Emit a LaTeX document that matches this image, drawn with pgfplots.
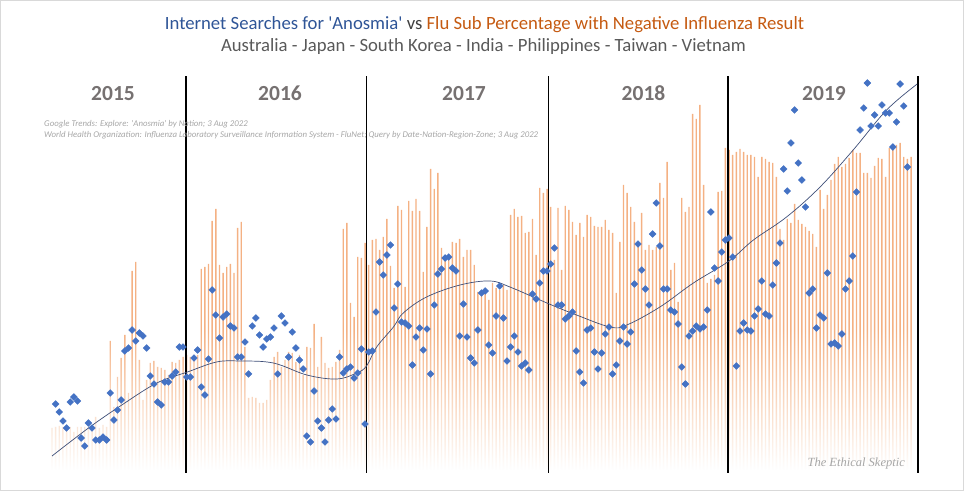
\documentclass[border=0pt]{standalone}
\usepackage{pgfplots}
\usepackage{pgfplotstable}
\usepackage{fontspec}
\setmainfont{Carlito}
\newfontfamily\sigfont{Liberation Serif}
\pgfplotsset{compat=1.18}
\usetikzlibrary{fadings}

\definecolor{titleblue}{RGB}{47,85,151}
\definecolor{titleorange}{RGB}{197,90,17}
\definecolor{vsgray}{RGB}{64,64,64}
\definecolor{subgray}{RGB}{89,89,89}
\definecolor{yeargray}{RGB}{118,113,113}
\definecolor{srcgray}{RGB}{166,166,166}
\definecolor{barorange}{RGB}{244,177,131}
\definecolor{dotblue}{RGB}{68,114,196}
\definecolor{trendblue}{RGB}{62,78,120}
\definecolor{framegray}{RGB}{217,217,217}

% weekly series: k = week index (from spring 2015), flu = negative flu share bar, search = 'Anosmia' search index
\pgfplotstableread{
k flu search
0 42 nan
1 43 66
2 44 58
3 43 49
4 43 42
5 43 68
6 38 73
7 43 69
8 43 32
9 43 24
10 43 47
11 43 42
12 53 30
13 42 30
14 45 33
15 43 30
16 129 77
17 63 50
18 93 60
19 112 70
20 135 119
21 77 122
22 199 140
23 208 129
24 110 137
25 70 134
26 90 122
27 107 94
28 109 86
29 103 68
30 102 65
31 100 88
32 95 88
33 108 94
34 107 98
35 110 123
36 113 123
37 115 93
38 113 93
39 114 112
40 115 120
41 201 83
42 203 75
43 206 111
44 249 180
45 261 155
46 205 132
47 197 153
48 203 156
49 206 144
50 197 142
51 242 113
52 248 113
53 123 128
54 72 96
55 73 144
56 72 152
57 67 135
58 67 123
59 70 131
60 90 133
61 113 142
62 118 96
63 103 154
64 110 147
65 118 113
66 117 138
67 108 122
68 115 110
69 95 101
70 123 34
71 122 28
72 146 79
73 103 49
74 133 42
75 107 28
76 102 50
77 103 61
78 108 51
79 120 113
80 241 97
81 247 101
82 167 103
83 153 92
84 213 97
85 212 121
86 227 46
87 205 118
88 230 119
89 231 158
90 220 208
91 233 195
92 251 215
93 204 225
94 182 162
95 264 186
96 260 148
97 183 147
98 269 144
99 259 105
100 271 133
101 259 142
102 198 120
103 243 141
104 301 96
105 281 165
106 297 196
107 222 201
108 215 212
109 212 213
110 228 202
111 227 199
112 231 134
113 213 166
114 220 133
115 220 112
116 205 107
117 178 140
118 178 177
119 178 179
120 170 125
121 187 117
122 182 154
123 180 184
124 185 152
125 180 109
126 255 123
127 261 134
128 253 118
129 254 104
130 237 107
131 238 100
132 251 176
133 215 171
134 282 187
135 277 199
136 281 199
137 263 206
138 210 222
139 262 165
140 200 165
141 264 151
142 260 154
143 248 158
144 235 119
145 247 98
146 233 87
147 255 140
148 253 142
149 244 118
150 243 101
151 243 117
152 250 136
153 240 143
154 237 96
155 177 105
156 228 129
157 285 143
158 277 126
159 263 138
160 248 186
161 225 226
162 257 200
163 220 181
164 225 165
165 220 236
166 223 267
167 287 224
168 272 181
169 308 181
170 200 160
171 207 158
172 168 146
173 272 103
174 258 86
175 263 134
176 356 139
177 351 144
178 365 141
179 285 143
180 187 160
181 191 258
182 195 202
183 278 189
184 279 218
185 322 230
186 320 232
187 315 213
188 318 104
189 321 139
190 318 147
191 315 140
192 315 139
193 313 154
194 293 161
195 313 189
196 311 156
197 308 154
198 307 185
199 293 207
200 241 227
201 230 301
202 251 279
203 247 327
204 266 360
205 250 307
206 246 290
207 243 263
208 239 177
209 236 181
210 223 142
211 280 155
212 261 152
213 275 197
214 290 126
215 306 127
216 313 124
217 303 136
218 306 181
219 312 189
220 320 214
221 317 278
222 317 340
223 297 362
224 297 387
225 292 344
226 304 355
227 312 344
228 311 365
229 293 357
230 322 357
231 325 323
232 325 348
233 327 386
234 313 364
235 311 303
236 313 nan
}\weekly

% polynomial trend of the search series
\pgfplotstableread{
k trend
0 14
10.4 43
19.6 66
28.8 87
37.2 98
45.2 108
51.6 109
60.8 107
70 95
78.2 91
83.7 97
86.4 104
89.2 123
93.8 143
96.5 157
102.9 173
112.1 185
120.3 189
125.8 183
136.6 166
144.1 155
153.3 143
157.9 145
167 163
176.2 187
186 209
192.7 230
201.8 253
211 283
220.1 320
229.3 360
237.7 386
}\trend

\begin{document}
\begin{tikzpicture}
\begin{axis}[
    at={(0pt,0pt)}, anchor=south west,
    scale only axis,
    width=968pt, height=494pt,
    xmin=-14.29, xmax=251.65,
    ymin=-24, ymax=470,
    hide axis,
]
\addplot[ybar, bar width=1.4pt, fill=barorange, draw=none] table[x=k, y=flu] {\weekly};
% bars fade out towards the base
\fill[white, path fading=north] (axis cs:-14,0) rectangle (axis cs:251,140);
\fill[white] (axis cs:-14,-24) rectangle (axis cs:251,0);
% year separators
\foreach \yx in {36.8,86.3,136.3,185.7,237.9} {
    \edef\temp{\noexpand\draw[black, line width=1.2pt] (axis cs:\yx,-3) -- (axis cs:\yx,394);}
    \temp
}
\addplot[trendblue, line width=0.7pt, smooth, tension=0.6] table[x=k, y=trend] {\trend};
\addplot[only marks, mark=square*, mark size=2.4pt,
    mark options={rotate=45, fill=dotblue, draw=dotblue}] table[x=k, y=search] {\weekly};
\end{axis}

% titles
\node[anchor=base, inner sep=0pt] at (484.5pt,464pt) {\fontsize{18.7pt}{21pt}\selectfont
    \textcolor{titleblue}{Internet Searches for \textquotesingle Anosmia\textquotesingle}
    \textcolor{vsgray}{vs}
    \textcolor{titleorange}{Flu Sub Percentage with Negative Influenza Result}};
\node[anchor=base, inner sep=0pt, text=subgray] at (483.5pt,442pt) {\fontsize{18.7pt}{21pt}\selectfont
    Australia - Japan - South Korea - India - Philippines - Taiwan - Vietnam};

% years
\foreach \px/\yr in {113/2015, 280/2016, 464/2017, 643.5/2018, 824/2019}
    \node[anchor=base, inner sep=0pt, text=yeargray, font=\fontsize{21.5pt}{24pt}\selectfont\bfseries] at (\px pt,393pt) {\yr};

% sources
\node[anchor=base west, inner sep=0pt, text=srcgray, font=\fontsize{8.8pt}{11pt}\selectfont\itshape] at (44pt,367pt)
    {Google Trends: Explore: \textquotesingle Anosmia\textquotesingle\ by Nation; 3 Aug 2022};
\node[anchor=base west, inner sep=0pt, text=srcgray, font=\fontsize{8.8pt}{11pt}\selectfont\itshape] at (44pt,356pt)
    {World Health Organization: Influenza Laboratory Surveillance Information System - FluNet; Query by Date-Nation-Region-Zone; 3 Aug 2022};

\node[anchor=base east, inner sep=0pt, text=srcgray, font=\fontsize{12.5pt}{14pt}\selectfont\sigfont\itshape] at (905pt,27pt)
    {The Ethical Skeptic};

% outer frame
\draw[framegray, line width=1pt] (0.5pt,3pt) rectangle (963.5pt,493.5pt);
\pgfresetboundingbox
\path[use as bounding box] (0pt,0pt) rectangle (968pt,494pt);
\end{tikzpicture}
\end{document}
